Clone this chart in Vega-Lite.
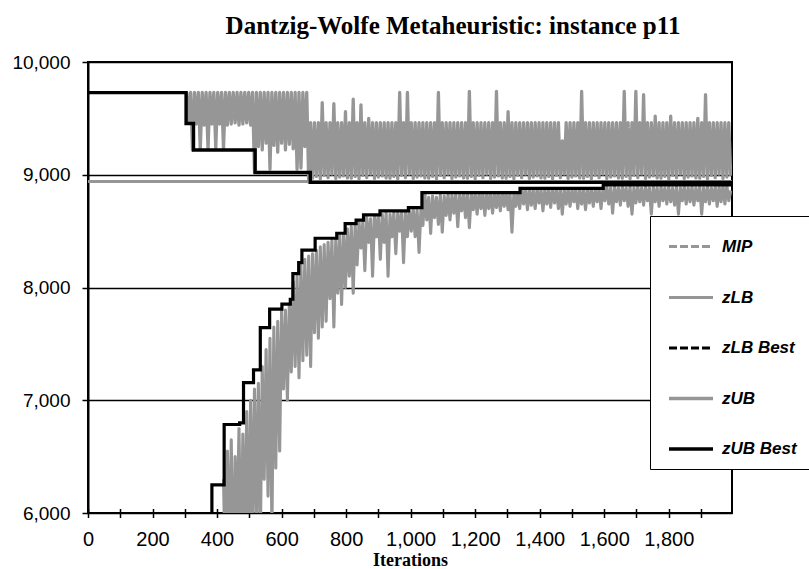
{
"$schema":"https://vega.github.io/schema/vega-lite/v6.json",
"width":644,"height":451,
"autosize":{"type":"none"},
"padding":{"left":88,"top":62,"right":77,"bottom":56},
"background":"white",
"title":{"text":"Dantzig-Wolfe Metaheuristic: instance p11","font":"Liberation Serif","fontSize":25,"fontWeight":"bold","color":"black","anchor":"middle","frame":"group","dx":43,"offset":14},
"config":{"view":{"stroke":"black","strokeWidth":2}},
"datasets":{
"zlb":[{"i":420,"zLB":6300},{"i":426,"zLB":5400},{"i":432,"zLB":6550},{"i":438,"zLB":5600},{"i":444,"zLB":6650},{"i":450,"zLB":5300},{"i":456,"zLB":6500},{"i":462,"zLB":5800},{"i":468,"zLB":6750},{"i":474,"zLB":5500},{"i":480,"zLB":6700},{"i":486,"zLB":5700},{"i":492,"zLB":6900},{"i":498,"zLB":5600},{"i":504,"zLB":7000},{"i":510,"zLB":5800},{"i":516,"zLB":7100},{"i":522,"zLB":5900},{"i":528,"zLB":7150},{"i":534,"zLB":5700},{"i":540,"zLB":7300},{"i":546,"zLB":6300},{"i":552,"zLB":7450},{"i":558,"zLB":6150},{"i":564,"zLB":7550},{"i":570,"zLB":5850},{"i":576,"zLB":7650},{"i":582,"zLB":6400},{"i":588,"zLB":7700},{"i":594,"zLB":6550},{"i":600,"zLB":7790},{"i":606,"zLB":7100},{"i":612,"zLB":7800},{"i":618,"zLB":7000},{"i":624,"zLB":7850},{"i":630,"zLB":7250},{"i":636,"zLB":8050},{"i":642,"zLB":7300},{"i":648,"zLB":8100},{"i":654,"zLB":7200},{"i":660,"zLB":8200},{"i":666,"zLB":7350},{"i":672,"zLB":8250},{"i":678,"zLB":7400},{"i":684,"zLB":8280},{"i":690,"zLB":7300},{"i":696,"zLB":8300},{"i":702,"zLB":7600},{"i":708,"zLB":8330},{"i":714,"zLB":7550},{"i":720,"zLB":8360},{"i":726,"zLB":7650},{"i":732,"zLB":8380},{"i":738,"zLB":7700},{"i":744,"zLB":8400},{"i":750,"zLB":7900},{"i":756,"zLB":8420},{"i":762,"zLB":7650},{"i":768,"zLB":8430},{"i":774,"zLB":7950},{"i":780,"zLB":8470},{"i":786,"zLB":7850},{"i":792,"zLB":8480},{"i":798,"zLB":8000},{"i":804,"zLB":8520},{"i":810,"zLB":8100},{"i":816,"zLB":8540},{"i":822,"zLB":7950},{"i":828,"zLB":8560},{"i":834,"zLB":8200},{"i":840,"zLB":8580},{"i":846,"zLB":8350},{"i":852,"zLB":8590},{"i":858,"zLB":8150},{"i":864,"zLB":8620},{"i":870,"zLB":8400},{"i":876,"zLB":8610},{"i":882,"zLB":8100},{"i":888,"zLB":8640},{"i":894,"zLB":8450},{"i":900,"zLB":8630},{"i":906,"zLB":8250},{"i":912,"zLB":8650},{"i":918,"zLB":8400},{"i":924,"zLB":8660},{"i":930,"zLB":8100},{"i":936,"zLB":8650},{"i":942,"zLB":8450},{"i":948,"zLB":8670},{"i":954,"zLB":8300},{"i":960,"zLB":8660},{"i":966,"zLB":8500},{"i":972,"zLB":8675},{"i":978,"zLB":8220},{"i":984,"zLB":8670},{"i":990,"zLB":8450},{"i":996,"zLB":8690},{"i":1002,"zLB":8500},{"i":1008,"zLB":8700},{"i":1014,"zLB":8450},{"i":1020,"zLB":8690},{"i":1026,"zLB":8310},{"i":1032,"zLB":8700},{"i":1038,"zLB":8550},{"i":1044,"zLB":8840},{"i":1050,"zLB":8600},{"i":1056,"zLB":8800},{"i":1062,"zLB":8480},{"i":1068,"zLB":8810},{"i":1074,"zLB":8620},{"i":1080,"zLB":8800},{"i":1086,"zLB":8560},{"i":1092,"zLB":8820},{"i":1098,"zLB":8490},{"i":1104,"zLB":8810},{"i":1110,"zLB":8640},{"i":1116,"zLB":8830},{"i":1122,"zLB":8600},{"i":1128,"zLB":8820},{"i":1134,"zLB":8660},{"i":1140,"zLB":8830},{"i":1146,"zLB":8540},{"i":1152,"zLB":8820},{"i":1158,"zLB":8680},{"i":1164,"zLB":8840},{"i":1170,"zLB":8620},{"i":1176,"zLB":8830},{"i":1182,"zLB":8530},{"i":1188,"zLB":8840},{"i":1194,"zLB":8690},{"i":1200,"zLB":8830},{"i":1206,"zLB":8650},{"i":1212,"zLB":8840},{"i":1218,"zLB":8700},{"i":1224,"zLB":8835},{"i":1230,"zLB":8640},{"i":1236,"zLB":8840},{"i":1242,"zLB":8700},{"i":1248,"zLB":8835},{"i":1254,"zLB":8660},{"i":1260,"zLB":8840},{"i":1266,"zLB":8710},{"i":1272,"zLB":8838},{"i":1278,"zLB":8680},{"i":1284,"zLB":8840},{"i":1290,"zLB":8720},{"i":1296,"zLB":8835},{"i":1302,"zLB":8690},{"i":1308,"zLB":8840},{"i":1314,"zLB":8490},{"i":1320,"zLB":8838},{"i":1326,"zLB":8720},{"i":1332,"zLB":8840},{"i":1338,"zLB":8700},{"i":1344,"zLB":8880},{"i":1350,"zLB":8740},{"i":1356,"zLB":8870},{"i":1362,"zLB":8690},{"i":1368,"zLB":8875},{"i":1374,"zLB":8730},{"i":1380,"zLB":8865},{"i":1386,"zLB":8700},{"i":1392,"zLB":8875},{"i":1398,"zLB":8750},{"i":1404,"zLB":8865},{"i":1410,"zLB":8680},{"i":1416,"zLB":8875},{"i":1422,"zLB":8740},{"i":1428,"zLB":8865},{"i":1434,"zLB":8710},{"i":1440,"zLB":8875},{"i":1446,"zLB":8750},{"i":1452,"zLB":8865},{"i":1458,"zLB":8700},{"i":1464,"zLB":8875},{"i":1470,"zLB":8650},{"i":1476,"zLB":8865},{"i":1482,"zLB":8740},{"i":1488,"zLB":8875},{"i":1494,"zLB":8720},{"i":1500,"zLB":8865},{"i":1506,"zLB":8760},{"i":1512,"zLB":8875},{"i":1518,"zLB":8700},{"i":1524,"zLB":8865},{"i":1530,"zLB":8740},{"i":1536,"zLB":8875},{"i":1542,"zLB":8690},{"i":1548,"zLB":8865},{"i":1554,"zLB":8750},{"i":1560,"zLB":8875},{"i":1566,"zLB":8720},{"i":1572,"zLB":8865},{"i":1578,"zLB":8760},{"i":1584,"zLB":8875},{"i":1590,"zLB":8700},{"i":1596,"zLB":8870},{"i":1602,"zLB":8770},{"i":1608,"zLB":8895},{"i":1614,"zLB":8740},{"i":1620,"zLB":8885},{"i":1626,"zLB":8660},{"i":1632,"zLB":8895},{"i":1638,"zLB":8760},{"i":1644,"zLB":8885},{"i":1650,"zLB":8730},{"i":1656,"zLB":8895},{"i":1662,"zLB":8770},{"i":1668,"zLB":8885},{"i":1674,"zLB":8720},{"i":1680,"zLB":8895},{"i":1686,"zLB":8650},{"i":1692,"zLB":8885},{"i":1698,"zLB":8750},{"i":1704,"zLB":8895},{"i":1710,"zLB":8760},{"i":1716,"zLB":8885},{"i":1722,"zLB":8730},{"i":1728,"zLB":8895},{"i":1734,"zLB":8770},{"i":1740,"zLB":8885},{"i":1746,"zLB":8650},{"i":1752,"zLB":8895},{"i":1758,"zLB":8760},{"i":1764,"zLB":8885},{"i":1770,"zLB":8720},{"i":1776,"zLB":8895},{"i":1782,"zLB":8770},{"i":1788,"zLB":8885},{"i":1794,"zLB":8740},{"i":1800,"zLB":8895},{"i":1806,"zLB":8760},{"i":1812,"zLB":8885},{"i":1818,"zLB":8730},{"i":1824,"zLB":8895},{"i":1830,"zLB":8650},{"i":1836,"zLB":8885},{"i":1842,"zLB":8770},{"i":1848,"zLB":8895},{"i":1854,"zLB":8740},{"i":1860,"zLB":8885},{"i":1866,"zLB":8760},{"i":1872,"zLB":8895},{"i":1878,"zLB":8730},{"i":1884,"zLB":8885},{"i":1890,"zLB":8770},{"i":1896,"zLB":8895},{"i":1902,"zLB":8650},{"i":1908,"zLB":8885},{"i":1914,"zLB":8760},{"i":1920,"zLB":8895},{"i":1926,"zLB":8740},{"i":1932,"zLB":8885},{"i":1938,"zLB":8770},{"i":1944,"zLB":8895},{"i":1950,"zLB":8720},{"i":1956,"zLB":8895},{"i":1962,"zLB":8760},{"i":1968,"zLB":8905},{"i":1974,"zLB":8740},{"i":1980,"zLB":8905},{"i":1986,"zLB":8770},{"i":1992,"zLB":8860}],
"zub":[{"i":306,"zUB":9730},{"i":312,"zUB":9460},{"i":318,"zUB":9730},{"i":324,"zUB":9220},{"i":330,"zUB":9730},{"i":336,"zUB":9450},{"i":342,"zUB":9730},{"i":348,"zUB":9230},{"i":354,"zUB":9730},{"i":360,"zUB":9440},{"i":366,"zUB":9730},{"i":372,"zUB":9230},{"i":378,"zUB":9730},{"i":384,"zUB":9450},{"i":390,"zUB":9730},{"i":396,"zUB":9240},{"i":402,"zUB":9730},{"i":408,"zUB":9450},{"i":414,"zUB":9730},{"i":420,"zUB":9230},{"i":426,"zUB":9730},{"i":432,"zUB":9440},{"i":438,"zUB":9730},{"i":444,"zUB":9450},{"i":450,"zUB":9730},{"i":456,"zUB":9460},{"i":462,"zUB":9730},{"i":468,"zUB":9440},{"i":474,"zUB":9730},{"i":480,"zUB":9450},{"i":486,"zUB":9730},{"i":492,"zUB":9460},{"i":498,"zUB":9730},{"i":504,"zUB":9440},{"i":510,"zUB":9730},{"i":516,"zUB":9020},{"i":522,"zUB":9730},{"i":528,"zUB":9250},{"i":534,"zUB":9730},{"i":540,"zUB":9220},{"i":546,"zUB":9730},{"i":552,"zUB":9280},{"i":558,"zUB":9730},{"i":564,"zUB":9050},{"i":570,"zUB":9730},{"i":576,"zUB":9260},{"i":582,"zUB":9730},{"i":588,"zUB":9200},{"i":594,"zUB":9730},{"i":600,"zUB":9280},{"i":606,"zUB":9730},{"i":612,"zUB":9220},{"i":618,"zUB":9730},{"i":624,"zUB":9270},{"i":630,"zUB":9730},{"i":636,"zUB":9230},{"i":642,"zUB":9730},{"i":648,"zUB":9050},{"i":654,"zUB":9730},{"i":660,"zUB":9060},{"i":666,"zUB":9730},{"i":672,"zUB":9250},{"i":678,"zUB":9730},{"i":684,"zUB":8935},
{"i":690,"zUB":9462},{"i":696,"zUB":8970},{"i":702,"zUB":9462},{"i":708,"zUB":8985},{"i":714,"zUB":9462},{"i":720,"zUB":8965},{"i":726,"zUB":9640},{"i":732,"zUB":8995},{"i":738,"zUB":9462},{"i":744,"zUB":8975},{"i":750,"zUB":9462},{"i":756,"zUB":9005},{"i":762,"zUB":9630},{"i":768,"zUB":8968},{"i":774,"zUB":9462},{"i":780,"zUB":8980},{"i":786,"zUB":9462},{"i":792,"zUB":8990},{"i":798,"zUB":9560},{"i":804,"zUB":8972},{"i":810,"zUB":9462},{"i":816,"zUB":8970},{"i":822,"zUB":9670},{"i":828,"zUB":8985},{"i":834,"zUB":9462},{"i":840,"zUB":8965},{"i":846,"zUB":9620},{"i":852,"zUB":8995},{"i":858,"zUB":9462},{"i":864,"zUB":8975},{"i":870,"zUB":9500},{"i":876,"zUB":9005},{"i":882,"zUB":9462},{"i":888,"zUB":8968},{"i":894,"zUB":9462},{"i":900,"zUB":8980},{"i":906,"zUB":9462},{"i":912,"zUB":8990},{"i":918,"zUB":9462},{"i":924,"zUB":8972},{"i":930,"zUB":9462},{"i":936,"zUB":8970},{"i":942,"zUB":9462},{"i":948,"zUB":8985},{"i":954,"zUB":9462},{"i":960,"zUB":8965},{"i":966,"zUB":9730},{"i":972,"zUB":8995},{"i":978,"zUB":9462},{"i":984,"zUB":8975},{"i":990,"zUB":9730},{"i":996,"zUB":9005},{"i":1002,"zUB":9462},{"i":1008,"zUB":8968},{"i":1014,"zUB":9462},{"i":1020,"zUB":8980},{"i":1026,"zUB":9462},{"i":1032,"zUB":8990},{"i":1038,"zUB":9462},{"i":1044,"zUB":8972},{"i":1050,"zUB":9462},{"i":1056,"zUB":8970},{"i":1062,"zUB":9462},{"i":1068,"zUB":8985},{"i":1074,"zUB":9462},{"i":1080,"zUB":8965},{"i":1086,"zUB":9730},{"i":1092,"zUB":8995},{"i":1098,"zUB":9462},{"i":1104,"zUB":8975},{"i":1110,"zUB":9462},{"i":1116,"zUB":9005},{"i":1122,"zUB":9462},{"i":1128,"zUB":8968},{"i":1134,"zUB":9462},{"i":1140,"zUB":8980},{"i":1146,"zUB":9462},{"i":1152,"zUB":8990},{"i":1158,"zUB":9462},{"i":1164,"zUB":8972},{"i":1170,"zUB":9462},{"i":1176,"zUB":8970},{"i":1182,"zUB":9740},{"i":1188,"zUB":8985},{"i":1194,"zUB":9462},{"i":1200,"zUB":8965},{"i":1206,"zUB":9462},{"i":1212,"zUB":8995},{"i":1218,"zUB":9462},{"i":1224,"zUB":8975},{"i":1230,"zUB":9462},{"i":1236,"zUB":9005},{"i":1242,"zUB":9462},{"i":1248,"zUB":8968},{"i":1254,"zUB":9462},{"i":1260,"zUB":8980},{"i":1266,"zUB":9740},{"i":1272,"zUB":8990},{"i":1278,"zUB":9462},{"i":1284,"zUB":8972},{"i":1290,"zUB":9462},{"i":1296,"zUB":8970},{"i":1302,"zUB":9560},{"i":1308,"zUB":8985},{"i":1314,"zUB":9462},{"i":1320,"zUB":8965},{"i":1326,"zUB":9462},{"i":1332,"zUB":8995},{"i":1338,"zUB":9462},{"i":1344,"zUB":8975},{"i":1350,"zUB":9462},{"i":1356,"zUB":9005},{"i":1362,"zUB":9462},{"i":1368,"zUB":8968},{"i":1374,"zUB":9462},{"i":1380,"zUB":8980},{"i":1386,"zUB":9462},{"i":1392,"zUB":8990},{"i":1398,"zUB":9462},{"i":1404,"zUB":8972},{"i":1410,"zUB":9462},{"i":1416,"zUB":8970},{"i":1422,"zUB":9462},{"i":1428,"zUB":8985},{"i":1434,"zUB":9462},{"i":1440,"zUB":8965},{"i":1446,"zUB":9462},{"i":1452,"zUB":8995},{"i":1458,"zUB":9462},{"i":1464,"zUB":8975},{"i":1470,"zUB":9300},{"i":1476,"zUB":9005},{"i":1482,"zUB":9462},{"i":1488,"zUB":8968},{"i":1494,"zUB":9462},{"i":1500,"zUB":8980},{"i":1506,"zUB":9462},{"i":1512,"zUB":8990},{"i":1518,"zUB":9462},{"i":1524,"zUB":8972},{"i":1530,"zUB":9740},{"i":1536,"zUB":8970},{"i":1542,"zUB":9462},{"i":1548,"zUB":8985},{"i":1554,"zUB":9462},{"i":1560,"zUB":8965},{"i":1566,"zUB":9462},{"i":1572,"zUB":8995},{"i":1578,"zUB":9462},{"i":1584,"zUB":8975},{"i":1590,"zUB":9462},{"i":1596,"zUB":9005},{"i":1602,"zUB":9462},{"i":1608,"zUB":8968},{"i":1614,"zUB":9462},{"i":1620,"zUB":8980},{"i":1626,"zUB":9462},{"i":1632,"zUB":8990},{"i":1638,"zUB":9462},{"i":1644,"zUB":8972},{"i":1650,"zUB":9462},{"i":1656,"zUB":8970},{"i":1662,"zUB":9740},{"i":1668,"zUB":8985},{"i":1674,"zUB":9462},{"i":1680,"zUB":8965},{"i":1686,"zUB":9462},{"i":1692,"zUB":8995},{"i":1698,"zUB":9740},{"i":1704,"zUB":8975},{"i":1710,"zUB":9462},{"i":1716,"zUB":9005},{"i":1722,"zUB":9710},{"i":1728,"zUB":8968},{"i":1734,"zUB":9462},{"i":1740,"zUB":8980},{"i":1746,"zUB":9462},{"i":1752,"zUB":8990},{"i":1758,"zUB":9520},{"i":1764,"zUB":8972},{"i":1770,"zUB":9462},{"i":1776,"zUB":8970},{"i":1782,"zUB":9462},{"i":1788,"zUB":8985},{"i":1794,"zUB":9462},{"i":1800,"zUB":8965},{"i":1806,"zUB":9520},{"i":1812,"zUB":8995},{"i":1818,"zUB":9462},{"i":1824,"zUB":8975},{"i":1830,"zUB":9462},{"i":1836,"zUB":9005},{"i":1842,"zUB":9462},{"i":1848,"zUB":8968},{"i":1854,"zUB":9462},{"i":1860,"zUB":8980},{"i":1866,"zUB":9462},{"i":1872,"zUB":8990},{"i":1878,"zUB":9462},{"i":1884,"zUB":8972},{"i":1890,"zUB":9500},{"i":1896,"zUB":8970},{"i":1902,"zUB":9462},{"i":1908,"zUB":8985},{"i":1914,"zUB":9710},{"i":1920,"zUB":8965},{"i":1926,"zUB":9462},{"i":1932,"zUB":8995},{"i":1938,"zUB":9462},{"i":1944,"zUB":8975},{"i":1950,"zUB":9462},{"i":1956,"zUB":9005},{"i":1962,"zUB":9462},{"i":1968,"zUB":8968},{"i":1974,"zUB":9462},{"i":1980,"zUB":8980},{"i":1986,"zUB":9462},{"i":1992,"zUB":8990}],
"mip":[{"s":"MIP","i":0,"v":8940},{"s":"MIP","i":1996,"v":8940}],
"lbbest":[{"s":"zLB Best","i":370,"v":5000},{"s":"zLB Best","i":384,"v":6250},{"s":"zLB Best","i":422,"v":6785},{"s":"zLB Best","i":470,"v":6800},{"s":"zLB Best","i":482,"v":7157},{"s":"zLB Best","i":513,"v":7270},{"s":"zLB Best","i":534,"v":7645},{"s":"zLB Best","i":563,"v":7808},{"s":"zLB Best","i":601,"v":7852},{"s":"zLB Best","i":627,"v":7896},{"s":"zLB Best","i":635,"v":8123},{"s":"zLB Best","i":653,"v":8220},{"s":"zLB Best","i":663,"v":8331},{"s":"zLB Best","i":704,"v":8437},{"s":"zLB Best","i":771,"v":8481},{"s":"zLB Best","i":797,"v":8567},{"s":"zLB Best","i":831,"v":8597},{"s":"zLB Best","i":854,"v":8644},{"s":"zLB Best","i":905,"v":8679},{"s":"zLB Best","i":993,"v":8709},{"s":"zLB Best","i":1035,"v":8841},{"s":"zLB Best","i":1339,"v":8880},{"s":"zLB Best","i":1597,"v":8910},{"s":"zLB Best","i":1996,"v":8910}],
"ubbest":[{"s":"zUB Best","i":0,"v":9728},{"s":"zUB Best","i":304,"v":9454},{"s":"zUB Best","i":327,"v":9219},{"s":"zUB Best","i":518,"v":9020},{"s":"zUB Best","i":689,"v":8932},{"s":"zUB Best","i":1996,"v":8932}]
},
"encoding":{
"x":{"field":"i","type":"quantitative","scale":{"domain":[0,1996],"nice":false,"zero":false},
 "axis":{"title":"Iterations","values":[0,100,200,300,400,500,600,700,800,900,1000,1100,1200,1300,1400,1500,1600,1700,1800,1900],"labelExpr":"datum.value % 200 == 0 ? format(datum.value, ',') : ''","offset":-4.5,"domain":false,"grid":false,"tickSize":9,"tickColor":"black","tickWidth":1.5,"labelFont":"Liberation Sans","labelFontSize":20,"labelColor":"black","labelPadding":12,"labelFlush":false,"labelOverlap":false,"titleFont":"Liberation Serif","titleFontWeight":"bold","titleFontSize":18,"titleColor":"black","titlePadding":2}},
"y":{"field":"v","type":"quantitative","scale":{"domain":[6000,10000],"nice":false,"zero":false},
 "axis":{"title":null,"values":[6000,7000,8000,9000,10000],"labelExpr":"format(datum.value, ',')","grid":true,"gridColor":"black","gridWidth":1.3,"domain":true,"domainColor":"black","domainWidth":2,"tickSize":6,"tickColor":"black","tickWidth":1.5,"labelFont":"Liberation Sans","labelFontSize":19,"labelColor":"black","labelPadding":12}},
"color":{"field":"s","type":"nominal","scale":{"domain":["MIP","zLB","zLB Best","zUB","zUB Best"],"range":["#969696","#969696","#000000","#969696","#000000"]},
 "legend":{"orient":"none","legendX":562,"legendY":154,"title":" ","titleFontSize":5,"titlePadding":1,"symbolType":"M-2,0H2","symbolSize":484,"symbolOffset":16,"labelOffset":18,"rowPadding":29.5,"padding":12,"fillColor":"white","strokeColor":"black","labelFont":"Liberation Sans","labelFontSize":17,"labelFontWeight":"bold","labelFontStyle":"italic","labelColor":"black"}},
"strokeDash":{"field":"s","type":"nominal","scale":{"domain":["MIP","zLB","zLB Best","zUB","zUB Best"],"range":[[8,3],[1,0],[8,3],[1,0],[1,0]]},
 "legend":{"orient":"none","legendX":562,"legendY":154,"title":" ","titleFontSize":5,"titlePadding":1,"symbolType":"M-2,0H2","symbolSize":484,"symbolOffset":16,"labelOffset":18,"rowPadding":29.5,"padding":12,"fillColor":"white","strokeColor":"black","labelFont":"Liberation Sans","labelFontSize":17,"labelFontWeight":"bold","labelFontStyle":"italic","labelColor":"black"}},
"strokeWidth":{"field":"s","type":"nominal","scale":{"domain":["MIP","zLB","zLB Best","zUB","zUB Best"],"range":[3,3.4,3,3.4,4]},
 "legend":{"orient":"none","legendX":562,"legendY":154,"title":" ","titleFontSize":5,"titlePadding":1,"symbolType":"M-2,0H2","symbolSize":484,"symbolOffset":16,"labelOffset":18,"rowPadding":29.5,"padding":12,"fillColor":"white","strokeColor":"black","labelFont":"Liberation Sans","labelFontSize":17,"labelFontWeight":"bold","labelFontStyle":"italic","labelColor":"black"}}
},
"layer":[
{"data":{"name":"zlb"},"transform":[{"fold":["zLB"],"as":["s","v"]}],"mark":{"type":"line","clip":true,"strokeJoin":"round"}},
{"data":{"name":"zub"},"transform":[{"fold":["zUB"],"as":["s","v"]}],"mark":{"type":"line","clip":true,"strokeJoin":"round"}},
{"data":{"name":"mip"},"mark":{"type":"line","clip":true,"strokeDash":[1,0]},"encoding":{"strokeDash":{"value":[1,0]}}},
{"data":{"name":"lbbest"},"mark":{"type":"line","clip":true,"interpolate":"step-after"},"encoding":{"strokeDash":{"value":[1,0]}}},
{"data":{"name":"ubbest"},"mark":{"type":"line","clip":true,"interpolate":"step-after"}}
]
}
